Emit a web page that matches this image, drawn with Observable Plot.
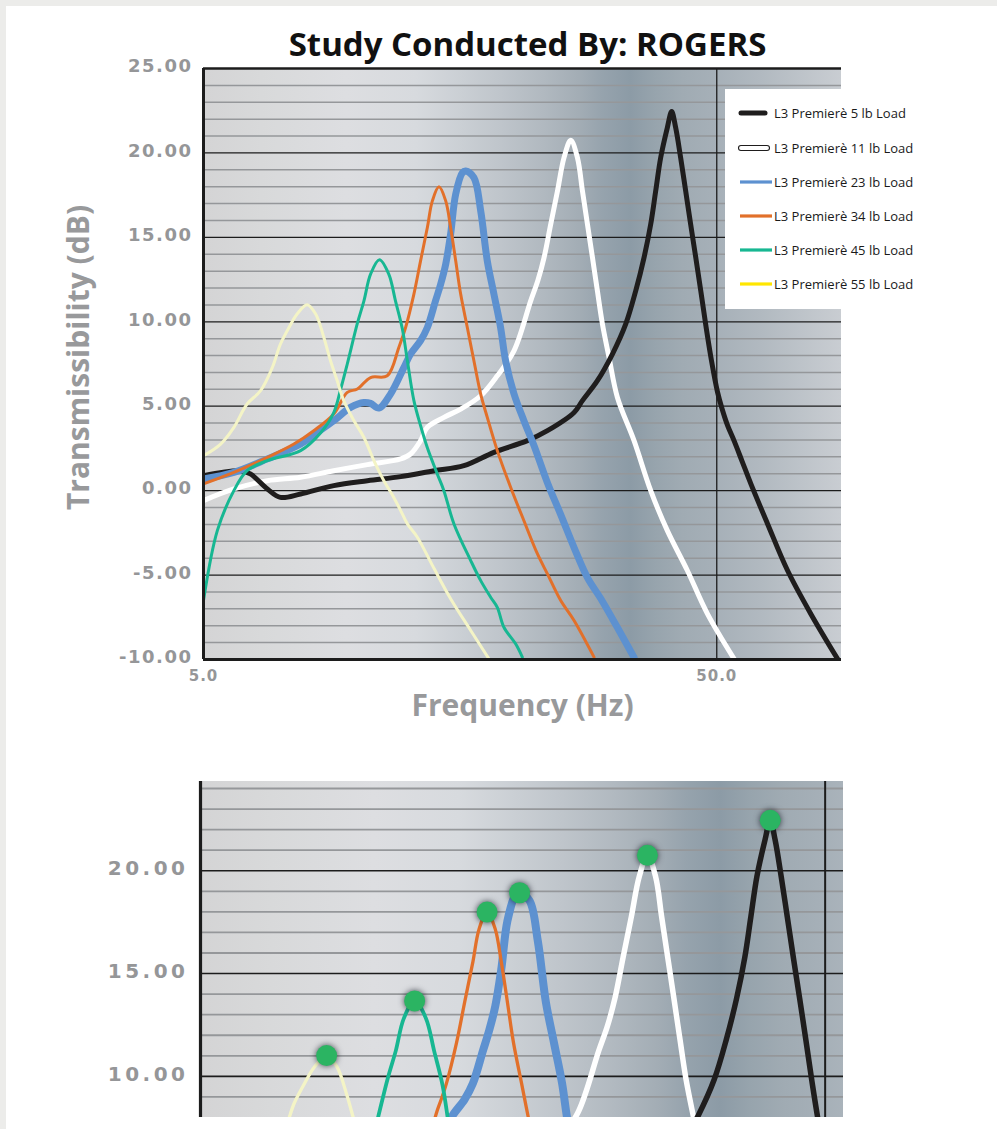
<!DOCTYPE html>
<html>
<head>
<meta charset="utf-8">
<script src="https://cdn.jsdelivr.net/npm/d3@7"></script>
<script src="https://cdn.jsdelivr.net/npm/@observablehq/plot@0.6"></script>
<style>
html,body{margin:0;padding:0;overflow:hidden;background:#ececea;width:997px;height:1129px;}
#sheet{position:absolute;left:6px;top:6px;width:991px;height:1123px;background:#fff;}
#charts{position:absolute;left:0;top:0;width:997px;}
#charts svg{display:block;}
#legend{position:absolute;left:725px;top:89px;width:215px;height:220px;background:#fff;font-family:"Open Sans",sans-serif;font-size:13px;color:#1a1a1a;}
#legend .item{position:absolute;left:0;height:20px;width:215px;}
#legend .item svg{position:absolute;left:0;top:0;}
#legend .item span{position:absolute;left:49px;top:0;line-height:20px;white-space:nowrap;}
</style>
</head>
<body>
<div id="sheet"></div>
<div id="charts"></div>
<div id="legend"></div>
<script>
// ---------- data (Hz, dB) ----------
const seriesNames = [
  "L3 Premierè 5 lb Load",
  "L3 Premierè 11 lb Load",
  "L3 Premierè 23 lb Load",
  "L3 Premierè 34 lb Load",
  "L3 Premierè 45 lb Load",
  "L3 Premierè 55 lb Load"
];
const load5 = [[5.00,0.89],[5.90,1.18],[6.17,0.99],[6.66,0.10],[7.06,-0.40],[7.73,-0.20],[8.97,0.30],[10.43,0.59],[12.11,0.83],[14.06,1.18],[16.08,1.48],[18.40,2.27],[21.38,2.96],[23.39,3.55],[26.36,4.63],[27.37,5.33],[29.27,6.51],[31.31,8.09],[33.23,9.86],[34.76,11.83],[36.08,13.80],[37.18,15.78],[38.02,17.75],[38.88,19.72],[40.06,21.50],[40.84,22.45],[41.58,21.50],[42.52,19.72],[43.49,17.75],[44.47,15.78],[45.51,13.80],[46.54,11.83],[47.60,9.80],[48.83,7.70],[50.16,5.85],[51.20,4.85],[52.50,3.85],[54.03,2.96],[56.00,1.75],[58.27,0.40],[62.81,-1.97],[68.69,-4.73],[76.26,-7.30],[85.96,-9.96]];
const load11 = [[5.00,-0.59],[5.73,0.10],[6.66,0.59],[7.73,0.79],[8.97,1.18],[10.43,1.54],[12.11,1.88],[12.66,2.17],[13.24,2.96],[13.65,3.75],[14.70,4.34],[15.85,4.83],[17.34,5.62],[18.68,6.80],[20.13,8.28],[21.70,11.24],[22.40,12.43],[23.04,13.80],[23.74,15.78],[24.47,17.75],[25.20,19.72],[25.97,20.75],[26.76,19.72],[27.37,17.75],[27.99,15.78],[28.63,13.80],[29.27,11.83],[29.94,9.86],[30.84,7.89],[32.02,5.52],[34.50,2.96],[37.18,0.00],[40.06,-2.37],[43.82,-4.73],[47.96,-7.30],[54.03,-9.96]];
const load23 = [[5.00,0.69],[5.73,1.08],[6.66,1.88],[7.73,2.76],[8.33,3.45],[8.97,4.14],[9.67,4.93],[10.27,5.22],[10.58,5.17],[10.98,4.89],[11.57,5.72],[12.29,7.30],[12.66,8.09],[13.24,8.88],[13.65,9.66],[14.16,11.24],[14.49,12.23],[14.82,13.41],[15.15,15.19],[15.50,17.56],[15.97,18.83],[16.21,18.93],[16.82,18.54],[17.34,16.57],[17.86,13.61],[18.40,11.64],[18.96,9.66],[19.39,7.69],[20.13,5.74],[21.05,4.14],[22.03,2.66],[23.39,0.47],[24.83,-1.42],[26.36,-3.37],[27.99,-5.15],[29.71,-6.39],[32.02,-8.11],[34.50,-9.88]];
const load34 = [[5.00,0.40],[5.73,1.08],[6.66,1.97],[7.50,2.76],[8.20,3.55],[8.97,4.54],[9.53,5.82],[9.97,6.02],[10.58,6.70],[11.40,6.80],[12.01,8.48],[12.38,9.66],[12.85,11.64],[13.24,13.61],[13.65,15.58],[13.96,17.16],[14.38,17.99],[14.82,17.16],[15.15,15.58],[15.50,13.61],[15.85,11.64],[16.33,9.66],[16.82,7.69],[17.34,5.72],[17.86,4.34],[18.68,2.37],[19.83,0.20],[21.05,-1.78],[22.37,-3.75],[23.39,-4.93],[24.83,-6.51],[26.36,-7.69],[28.83,-9.86]];
const load45 = [[5.00,-6.51],[5.32,-2.37],[5.73,0.00],[6.08,1.18],[6.66,1.78],[7.73,2.37],[8.46,3.43],[8.97,4.62],[9.25,6.00],[9.53,7.50],[9.97,9.90],[10.27,11.24],[10.58,12.82],[11.01,13.67],[11.48,12.82],[11.83,11.24],[12.20,9.59],[12.48,7.69],[12.85,5.33],[13.24,3.85],[13.65,2.54],[14.27,0.99],[14.70,0.00],[15.38,-1.97],[16.58,-4.14],[17.34,-5.33],[18.13,-6.31],[18.68,-6.91],[19.24,-8.09],[20.28,-9.07],[20.90,-9.86]];
const load55 = [[5.00,2.07],[5.40,2.76],[5.73,3.75],[6.08,5.13],[6.46,5.92],[6.81,7.30],[7.06,8.68],[7.28,9.47],[7.61,10.46],[7.96,11.01],[8.27,10.46],[8.58,9.07],[8.84,7.69],[9.11,6.51],[9.38,5.33],[9.82,4.14],[10.27,3.15],[10.74,1.78],[11.23,0.59],[11.74,-0.40],[12.11,-1.18],[12.48,-1.97],[13.05,-2.76],[14.06,-4.60],[15.15,-6.40],[16.58,-8.28],[17.99,-9.96]];

const yTicksTop = [-10, -5, 0, 5, 10, 15, 20, 25];
const xTicksTop = [5, 50];
const yTicksBottom = [10, 15, 20];
const titleText = "Study Conducted By: ROGERS";
const yLabel = "Transmissibility (dB)";
const xLabel = "Frequency (Hz)";

// ---------- styling ----------
const curves = [load5, load11, load23, load34, load45, load55];
const lineColors = ["#1f1d1d", "#ffffff", "#5d91d0", "#e2702a", "#17b792", "#f4f4c6"];
const legendColors = ["#1f1d1d", "#ffffff", "#5d91d0", "#e2702a", "#17b792", "#ffe600"];
const widthTop = [5, 5, 7, 3, 3, 3];
const widthBottom = [5.5, 5.5, 8, 3.3, 3.8, 3.3];
const drawOrder = [1, 0, 2, 3, 4, 5];
const bgStops = [[5,"#d4d4d5"],[6.5,"#d8d9da"],[9.5,"#dddee1"],[13,"#d7dade"],[16,"#cacfd4"],[19,"#bfc5cb"],[23,"#b1b9c0"],[27,"#a3adb5"],[30,"#96a3ad"],[34,"#8c9ba6"],[38,"#97a4ad"],[43,"#a0abb3"],[50,"#a6b0b8"],[61,"#b1b9c0"],[73,"#bdc3c9"],[87.5,"#c9cdd2"]];
const tickGray = "#959698";
const ink = "#1c1c1c";

function backdrop(id) {
  return (index, scales, values, dims) => {
    const {width, height, marginLeft, marginRight, marginTop, marginBottom} = dims;
    const sx = scales.x;
    const gx0 = sx(bgStops[0][0]), gx1 = sx(bgStops[bgStops.length - 1][0]);
    const g = d3.create("svg:g");
    const grad = g.append("defs").append("linearGradient")
      .attr("id", id).attr("gradientUnits", "userSpaceOnUse")
      .attr("x1", gx0).attr("x2", gx1).attr("y1", 0).attr("y2", 0);
    for (const [hz, c] of bgStops) {
      grad.append("stop").attr("offset", (sx(hz) - gx0) / (gx1 - gx0)).attr("stop-color", c);
    }
    g.append("rect")
      .attr("x", marginLeft).attr("y", marginTop)
      .attr("width", width - marginLeft - marginRight)
      .attr("height", height - marginTop - marginBottom)
      .attr("fill", `url(#${id})`);
    return g.node();
  };
}

const lineMarks = (widths) => drawOrder.map(i => Plot.line(curves[i], {
  x: d => d[0], y: d => d[1], stroke: lineColors[i], strokeWidth: widths[i],
  curve: "catmull-rom", clip: true, strokeLinejoin: "round", strokeLinecap: "round"
}));

const minorTop = d3.range(-9, 25).filter(v => v % 5 !== 0);
const majorTop = [-5, 0, 5, 10, 15, 20];
const minorBottom = d3.range(9, 25).filter(v => v % 5 !== 0);

const topPlot = Plot.plot({
  width: 997, height: 740,
  marginLeft: 203, marginRight: 156, marginTop: 68, marginBottom: 81,
  style: {background: "transparent", overflow: "visible"},
  x: {type: "log", domain: [5, 87.5]},
  y: {domain: [-10, 25]},
  marks: [
    backdrop("bgTop"),
    Plot.ruleY(minorTop, {stroke: "#95979a", strokeWidth: 1.5}),
    Plot.ruleY(majorTop, {stroke: ink, strokeWidth: 1.3}),
    Plot.ruleX([50], {stroke: ink, strokeWidth: 1.3}),
    ...lineMarks(widthTop),
    Plot.ruleX([5], {stroke: ink, strokeWidth: 3}),
    Plot.ruleY([-10], {stroke: ink, strokeWidth: 3}),
    Plot.ruleY([25], {stroke: ink, strokeWidth: 2.5}),
    Plot.axisY(yTicksTop, {tickSize: 0, tickPadding: 11, tickFormat: d => d.toFixed(2), label: null, dy: -2,
      fontFamily: "DejaVu Sans", fontWeight: "bold", fontSize: 18, color: tickGray}),
    Plot.axisX(xTicksTop, {tickSize: 0, tickPadding: 11, tickFormat: d => d.toFixed(1), label: null,
      fontFamily: "DejaVu Sans", fontWeight: "bold", fontSize: 15, color: tickGray}),
    Plot.text([titleText], {text: d => d, frameAnchor: "top", textAnchor: "middle", dx: 5, dy: -23, lineAnchor: "middle",
      fontFamily: "Open Sans", fontWeight: "bold", fontSize: 33, fill: "#111"}),
    Plot.text([yLabel], {text: d => d, frameAnchor: "left", textAnchor: "middle", rotate: -90, dx: -124.5, dy: -6.5, lineAnchor: "middle",
      fontFamily: "Open Sans", fontWeight: "bold", fontSize: 30, fill: "#98999b"}),
    Plot.text([xLabel], {text: d => d, frameAnchor: "bottom", textAnchor: "middle", dy: 47, lineAnchor: "middle",
      fontFamily: "Open Sans", fontWeight: "bold", fontSize: 30, fill: "#98999b"})
  ]
});

const peaks = curves.map(c => { const p = d3.greatest(c, d => d[1]); return {hz: p[0], db: p[1]}; });

const bottomPlot = Plot.plot({
  width: 997, height: 389,
  marginLeft: 200, marginRight: 154, marginTop: 41, marginBottom: 12,
  style: {background: "transparent", overflow: "visible"},
  x: {type: "log", domain: [5, 53.5], axis: null},
  y: {domain: [8, 24.34]},
  marks: [
    backdrop("bgBottom"),
    Plot.ruleY(minorBottom, {stroke: "#95979a", strokeWidth: 1.8}),
    Plot.ruleY([10, 15, 20], {stroke: ink, strokeWidth: 1.6}),
    Plot.ruleX([50], {stroke: ink, strokeWidth: 2}),
    ...lineMarks(widthBottom),
    Plot.dot(peaks, {x: "hz", y: "db", r: 10.5, fill: "#2bb462", stroke: null}),
    Plot.ruleX([5], {stroke: ink, strokeWidth: 3.2}),
    Plot.axisY(yTicksBottom, {tickSize: 0, tickPadding: 12, tickFormat: d => d.toFixed(2), label: null, dy: -2,
      fontFamily: "DejaVu Sans", fontWeight: "bold", fontSize: 20, color: tickGray})
  ]
});

d3.select(topPlot).selectAll('g[aria-label^="y-axis"] text').style("letter-spacing", "1.5px");
d3.select(topPlot).selectAll('g[aria-label^="x-axis"] text').style("letter-spacing", "1px");
d3.select(bottomPlot).selectAll('g[aria-label^="y-axis"] text').style("letter-spacing", "3.5px");
d3.select(bottomPlot).selectAll('g[aria-label="dot"]').style("filter", "drop-shadow(0px 0px 3px rgba(25,30,40,0.8))");

const charts = document.getElementById("charts");
charts.appendChild(topPlot);
charts.appendChild(bottomPlot);

// ---------- legend ----------
const legend = d3.select("#legend");
const rowCenters = [24, 59, 93, 127, 161, 195];
seriesNames.forEach((name, i) => {
  const item = legend.append("div").attr("class", "item").style("top", (rowCenters[i] - 10) + "px");
  const sw = item.append("svg").attr("width", 48).attr("height", 20);
  if (i === 0) {
    sw.append("line").attr("x1", 16).attr("x2", 40).attr("y1", 10).attr("y2", 10)
      .attr("stroke", legendColors[0]).attr("stroke-width", 5).attr("stroke-linecap", "round");
  } else if (i === 1) {
    sw.append("rect").attr("x", 13.5).attr("y", 7.5).attr("width", 31).attr("height", 5).attr("rx", 2.5)
      .attr("fill", "#fff").attr("stroke", "#1f1d1d").attr("stroke-width", 1.1);
  } else {
    sw.append("line").attr("x1", 15).attr("x2", 47).attr("y1", 10).attr("y2", 10)
      .attr("stroke", legendColors[i]).attr("stroke-width", 3.2);
  }
  item.append("span").text(name);
});
</script>
</body>
</html>
